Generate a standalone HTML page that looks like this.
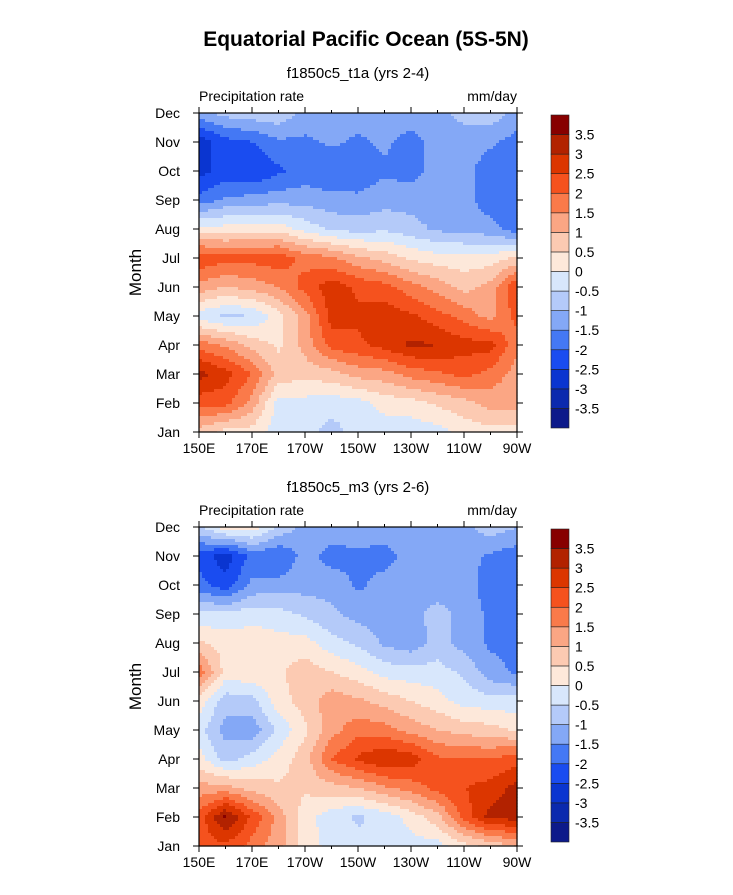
<!DOCTYPE html>
<html><head><meta charset="utf-8">
<style>
body{margin:0;background:#fff;}
svg text{font-family:"Liberation Sans",Arial,sans-serif;fill:#000;}
</style></head>
<body>
<svg id="fig" width="733" height="890" viewBox="0 0 733 890" xmlns="http://www.w3.org/2000/svg">
<text x="366" y="46" text-anchor="middle" font-size="21" font-weight="bold">Equatorial Pacific Ocean (5S-5N)</text>
</svg>
<script>
// ---- data ----
const months = ["Jan","Feb","Mar","Apr","May","Jun","Jul","Aug","Sep","Oct","Nov","Dec"];
const lonLabels = ["150E","170E","170W","150W","130W","110W","90W"];
const levels = [-3.5,-3,-2.5,-2,-1.5,-1,-0.5,0,0.5,1,1.5,2,2.5,3,3.5];
const colors = ["#0d1a8a","#0b2aae","#0a35d0","#1a4cf0","#4478f4","#84a8f6","#b4caf9","#d8e7fc","#fde8da","#fccab2","#fba684","#fa7a4a","#f5521e","#dc3600","#b22200","#870000"];
// rows: Jan..Dec, columns 150E..90W every 10 degrees
const panel1 = [
[0.8,0.3,0.3,-0.3,-0.3,-0.7,-0.3,-0.3,-0.3,-0.2,0.2,0.3,0.3],
[2.2,2.2,1.3,-0.2,-0.2,-0.3,-0.2,0.2,0.3,0.6,0.8,1.2,1.2],
[3.2,2.7,2.0,0.8,0.7,0.8,1.2,1.3,1.7,1.9,2.2,1.8,1.3],
[1.8,1.4,0.8,0.4,1.2,2.2,2.4,2.7,3.1,3.0,2.7,2.7,1.6],
[-0.3,-0.6,-0.5,0.3,1.3,2.7,2.6,2.8,2.6,2.2,1.8,1.3,2.2],
[1.3,1.0,1.2,1.5,2.2,2.8,2.4,2.2,1.7,1.3,0.8,1.2,2.5],
[2.4,2.2,2.2,2.3,1.8,1.6,1.1,0.8,0.4,0.2,0.2,0.2,0.6],
[0.2,0.2,0.3,0.3,-0.2,-0.6,-0.7,-0.6,-0.8,-1.1,-1.2,-1.3,-1.8],
[-1.8,-1.4,-1.3,-1.2,-1.2,-1.3,-1.4,-1.2,-1.2,-1.3,-1.3,-1.8,-1.8],
[-2.7,-2.3,-2.5,-2.1,-1.8,-2.0,-1.8,-1.6,-1.7,-1.3,-1.3,-1.8,-1.7],
[-2.8,-2.2,-2.0,-1.6,-1.6,-1.4,-1.6,-1.4,-1.7,-1.3,-1.3,-1.4,-1.7],
[-1.2,-0.8,-0.7,-0.6,-1.2,-1.2,-1.2,-1.2,-1.2,-1.2,-0.8,-0.7,-1.2]
];
const panel2 = [
[2.2,2.4,1.8,1.2,0.3,-0.2,-0.3,-0.3,-0.2,-0.2,0.3,0.6,1.0],
[2.2,3.6,2.4,1.3,0.2,-0.3,-0.6,-0.3,0.2,0.8,2.2,3.2,3.2],
[1.2,1.2,0.8,0.6,0.6,0.8,1.0,1.4,1.7,2.2,2.5,2.7,3.2],
[0.2,-0.7,-0.3,0.2,0.8,2.0,2.6,3.0,2.8,2.1,2.0,2.0,2.3],
[-0.3,-1.2,-1.3,-0.4,0.4,1.3,1.8,1.7,1.3,1.0,0.8,0.7,0.4],
[0.3,-0.8,-0.7,0.3,0.7,1.3,1.1,0.8,0.5,0.2,-0.2,-0.3,-0.3],
[1.8,0.3,0.4,0.4,0.8,0.5,0.2,-0.2,-0.3,-0.3,-0.6,-1.3,-1.6],
[0.6,0.3,0.3,0.2,0.2,-0.3,-0.6,-1.1,-1.3,-0.8,-1.2,-1.6,-1.6],
[-0.4,-0.4,-0.2,-0.3,-0.6,-0.9,-1.2,-1.2,-1.2,-0.8,-1.2,-1.6,-1.8],
[-1.8,-2.3,-1.4,-1.3,-1.2,-1.2,-1.6,-1.3,-1.2,-1.3,-1.2,-1.8,-1.7],
[-2.2,-2.8,-1.8,-2.0,-1.3,-1.7,-1.6,-1.7,-1.3,-1.3,-1.3,-1.6,-1.8],
[-0.6,0.3,0.3,-0.6,-1.2,-1.2,-1.2,-1.2,-1.2,-1.2,-1.2,-0.7,-1.0]
];
const subtitles = ["f1850c5_t1a (yrs 2-4)","f1850c5_m3 (yrs 2-6)"];

const NS="http://www.w3.org/2000/svg";
const svg=document.getElementById('fig');
function mk(tag,attrs,parent){const e=document.createElementNS(NS,tag);for(const k in attrs)e.setAttribute(k,attrs[k]);(parent||svg).appendChild(e);return e;}
function colorFor(v){let i=0;while(i<levels.length&&v>=levels[i])i++;return colors[i];}

function drawPanel(data,top,sub,idx){
  const L=199,R=517,T=top,B=top+319;
  const g=mk('g',{});
  
  
  const nC=data[0].length, nR=data.length;
  const xs=c=>L+(R-L)*c/(nC-1);           // column index -> x
  const ys=r=>B-(B-T)*r/(nR-1);           // month index -> y
  function val(fc,fr){
    const c0=Math.min(Math.floor(fc),nC-2),r0=Math.min(Math.floor(fr),nR-2);
    const tc=fc-c0,tr=fr-r0;
    return data[r0][c0]*(1-tc)*(1-tr)+data[r0][c0+1]*tc*(1-tr)+data[r0+1][c0]*(1-tc)*tr+data[r0+1][c0+1]*tc*tr;
  }
  const cg=mk('g',{},g);
  
  
  const step=3;
  for(let y=T;y<B;y+=step){
    const h=Math.min(step,B-y);
    const fr=(B-(y+h/2))/(B-T)*(nR-1);
    let runStart=L,runCol=null;
    for(let x=L;x<=R;x+=step){
      let col=null;
      if(x<R){const fc=((x+Math.min(step,R-x)/2)-L)/(R-L)*(nC-1);col=colorFor(val(fc,Math.max(0,Math.min(nR-1,fr))));}
      if(col!==runCol){
        if(runCol!==null){mk('rect',{x:runStart,y:y,width:Math.min(x,R)-runStart+0.6,height:h+0.6,fill:runCol},cg);}
        runStart=x;runCol=col;
      }
    }
  }
  mk('rect',{x:L,y:T,width:R-L,height:B-T,fill:'none',stroke:'#000','stroke-width':1.2},g);
  // x ticks
  for(let i=0;i<=12;i++){
    const x=L+(R-L)*i/12, len=(i%2==0)?6:3;
    mk('line',{x1:x,y1:B,x2:x,y2:B+len,stroke:'#000'},g);
    mk('line',{x1:x,y1:T,x2:x,y2:T-len,stroke:'#000'},g);
  }
  lonLabels.forEach((s,i)=>{
    const t=mk('text',{x:L+(R-L)*i/6,y:B+21,'text-anchor':'middle','font-size':14},g);
    t.textContent=s;
    
    
  });
  months.forEach((m,i)=>{
    const y=ys(i);
    mk('line',{x1:L,y1:y,x2:L-6,y2:y,stroke:'#000'},g);
    mk('line',{x1:R,y1:y,x2:R+6,y2:y,stroke:'#000'},g);
    const t=mk('text',{x:180,y:y+5,'text-anchor':'end','font-size':14},g);
    t.textContent=m;
    
    
  });
  const yl=mk('text',{x:0,y:0,'text-anchor':'middle','font-size':17,transform:`translate(141,${(T+B)/2}) rotate(-90)`},g);
  yl.textContent='Month';
  
  
  const st=mk('text',{x:358,y:T-35,'text-anchor':'middle','font-size':15},g);
  st.textContent=sub;
  
  
  const lt=mk('text',{x:L,y:T-12,'font-size':14},g);
  lt.textContent='Precipitation rate';
  
  
  const ut=mk('text',{x:R,y:T-12,'text-anchor':'end','font-size':14},g);
  ut.textContent='mm/day';
  
  
  // colorbar
  const cb=mk('g',{},g);
  
  
  const cT=T+2, cH=313, bh=cH/colors.length;
  colors.forEach((c,i)=>{
    mk('rect',{x:551,y:cT+cH-(i+1)*bh,width:18,height:bh,fill:c,stroke:'#222','stroke-width':0.6},cb);
  });
  levels.forEach((lv,i)=>{
    const t=mk('text',{x:575,y:cT+cH-(i+1)*bh+5,'font-size':14},cb);
    t.textContent=String(lv);
    
    
  });
}
drawPanel(panel1,113,subtitles[0],0);
drawPanel(panel2,527,subtitles[1],1);
</script>
</body></html>
